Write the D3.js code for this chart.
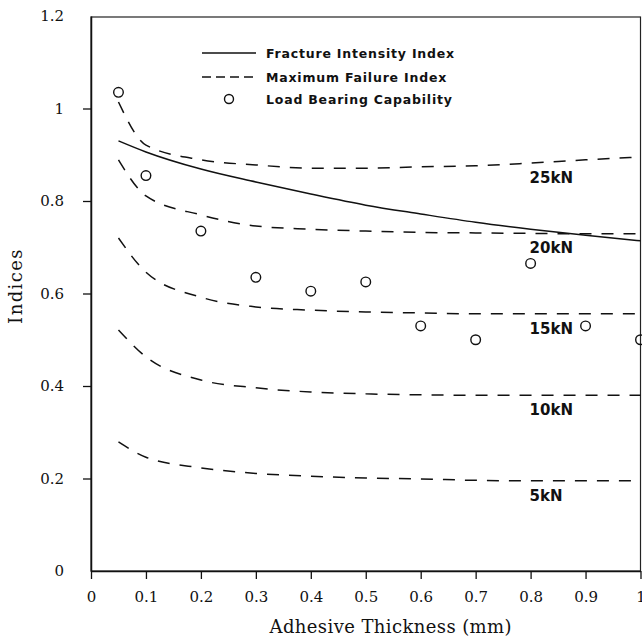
<!DOCTYPE html>
<html>
<head>
<meta charset="utf-8">
<script src="https://cdn.jsdelivr.net/npm/d3@7"></script>
<style>
  html, body { margin: 0; padding: 0; background: #fff; }
  svg { display: block; }
</style>
</head>
<body>
<svg id="chart" width="642" height="641"></svg>
<script>
// ---- Data ----
const thickness = [0.05, 0.1, 0.2, 0.3, 0.4, 0.5, 0.6, 0.7, 0.8, 0.9, 1.0];

const fractureIntensity = [0.930, 0.906, 0.869, 0.841, 0.815, 0.791, 0.772, 0.754, 0.739, 0.726, 0.714];

const loadBearing = [1.035, 0.855, 0.735, 0.635, 0.605, 0.625, 0.530, 0.500, 0.665, 0.530, 0.500];

const failure25kN = [1.014, 0.921, 0.889, 0.878, 0.871, 0.871, 0.874, 0.876, 0.882, 0.889, 0.895];
const failure20kN = [0.889, 0.811, 0.770, 0.746, 0.739, 0.735, 0.732, 0.731, 0.730, 0.729, 0.729];
const failure15kN = [0.720, 0.646, 0.592, 0.571, 0.564, 0.560, 0.558, 0.556, 0.556, 0.556, 0.556];
const failure10kN = [0.521, 0.463, 0.413, 0.396, 0.387, 0.383, 0.381, 0.380, 0.380, 0.380, 0.380];
const failure5kN  = [0.279, 0.246, 0.223, 0.211, 0.205, 0.201, 0.199, 0.196, 0.195, 0.195, 0.195];

const loadLabels = ["25kN", "20kN", "15kN", "10kN", "5kN"];
const failureSeries = [failure25kN, failure20kN, failure15kN, failure10kN, failure5kN];

const xTicks = [0, 0.1, 0.2, 0.3, 0.4, 0.5, 0.6, 0.7, 0.8, 0.9, 1];
const xTickLabels = ["0", "0.1", "0.2", "0.3", "0.4", "0.5", "0.6", "0.7", "0.8", "0.9", "1"];
const yTicks = [0, 0.2, 0.4, 0.6, 0.8, 1, 1.2];
const yTickLabels = ["0", "0.2", "0.4", "0.6", "0.8", "1", "1.2"];

const legendItems = ["Fracture Intensity Index", "Maximum Failure Index", "Load Bearing Capability"];

// ---- Layout ----
const mLeft = 91, mRight = 640.5, mTop = 16, mBottom = 571;
const svg = d3.select("#chart");

const x = d3.scaleLinear().domain([0, 1]).range([mLeft, mRight]);
const y = d3.scaleLinear().domain([0, 1.2]).range([mBottom, mTop]);

const serif = "'DejaVu Serif', serif";
const sans = "'DejaVu Sans', sans-serif";

// Frame
svg.append("rect")
  .attr("x", mLeft).attr("y", mTop + 1)
  .attr("width", mRight - mLeft).attr("height", mBottom - mTop - 1)
  .attr("fill", "none").attr("stroke", "#222").attr("stroke-width", 1.2);

// X axis
const xAxis = d3.axisBottom(x)
  .tickValues(xTicks)
  .tickFormat((d, i) => xTickLabels[i])
  .tickSizeInner(8).tickSizeOuter(0).tickPadding(12);
const gx = svg.append("g").attr("transform", `translate(0,${mBottom})`).call(xAxis);
gx.select(".domain").attr("stroke", "#111").attr("stroke-width", 1.5);
gx.selectAll(".tick line").attr("stroke", "#111").attr("stroke-width", 1.3);
gx.selectAll(".tick text").attr("font-family", serif).attr("font-size", 15).attr("fill", "#111");

// Y axis
const yAxis = d3.axisLeft(y)
  .tickValues(yTicks)
  .tickFormat((d, i) => yTickLabels[i])
  .tickSizeInner(8).tickSizeOuter(0).tickPadding(19);
const gy = svg.append("g").attr("transform", `translate(${mLeft},0)`).call(yAxis);
gy.select(".domain").attr("stroke", "#111").attr("stroke-width", 1.5);
gy.selectAll(".tick line").attr("stroke", "#111").attr("stroke-width", 1.3)
  .attr("display", (d) => d === 0 || d === 1.2 ? "none" : null);
gy.selectAll(".tick text").attr("font-family", serif).attr("font-size", 15).attr("fill", "#111");

// Axis titles
svg.append("text")
  .attr("x", (mLeft + mRight) / 2 + 25).attr("y", 633)
  .attr("text-anchor", "middle")
  .attr("font-family", serif).attr("font-size", 18).attr("letter-spacing", 0.4)
  .attr("fill", "#111")
  .text("Adhesive Thickness (mm)");

svg.append("text")
  .attr("transform", `translate(22,${(247 + 325) / 2}) rotate(-90)`)
  .attr("text-anchor", "middle")
  .attr("font-family", serif).attr("font-size", 18).attr("letter-spacing", 1.4)
  .attr("fill", "#111")
  .text("Indices");

// Lines
const line = d3.line()
  .x((d, i) => x(thickness[i]))
  .y((d) => y(d))
  .curve(d3.curveMonotoneX);

failureSeries.forEach((s, k) => {
  svg.append("path")
    .datum(s)
    .attr("d", line)
    .attr("fill", "none")
    .attr("stroke", "#111")
    .attr("stroke-width", 1.5)
    .attr("stroke-dasharray", "12,10");
  svg.append("text")
    .attr("x", x(0.8) - 1)
    .attr("y", y(s[8]) + 15)
    .attr("dominant-baseline", "central")
    .attr("font-family", sans).attr("font-size", 15).attr("font-weight", "bold")
    .attr("fill", "#111")
    .text(loadLabels[k]);
});

svg.append("path")
  .datum(fractureIntensity)
  .attr("d", line)
  .attr("fill", "none")
  .attr("stroke", "#111")
  .attr("stroke-width", 1.5);

svg.append("g").selectAll("circle")
  .data(loadBearing)
  .join("circle")
  .attr("cx", (d, i) => x(thickness[i]))
  .attr("cy", (d) => y(d))
  .attr("r", 4.8)
  .attr("fill", "none")
  .attr("stroke", "#111")
  .attr("stroke-width", 1.4);

// Legend
const lg = svg.append("g");
const legendY = [53, 77, 99];
lg.append("line").attr("x1", 202).attr("x2", 256).attr("y1", legendY[0]).attr("y2", legendY[0])
  .attr("stroke", "#111").attr("stroke-width", 1.4);
lg.append("line").attr("x1", 202).attr("x2", 254).attr("y1", legendY[1]).attr("y2", legendY[1])
  .attr("stroke", "#111").attr("stroke-width", 1.4).attr("stroke-dasharray", "9,5");
lg.append("circle").attr("cx", 229).attr("cy", legendY[2]).attr("r", 4.5)
  .attr("fill", "none").attr("stroke", "#111").attr("stroke-width", 1.4);
legendItems.forEach((t, i) => {
  lg.append("text")
    .attr("x", 266).attr("y", legendY[i])
    .attr("dominant-baseline", "central")
    .attr("font-family", sans).attr("font-size", 12.5).attr("font-weight", "bold")
    .attr("letter-spacing", 0.8)
    .attr("fill", "#111")
    .text(t);
});
</script>
</body>
</html>
